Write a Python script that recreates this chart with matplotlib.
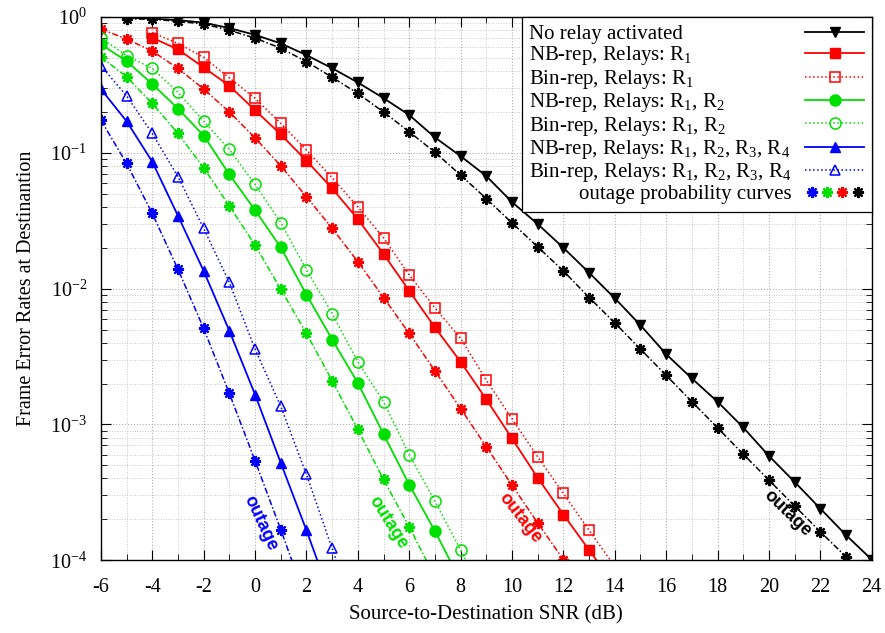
import numpy as np
import matplotlib
matplotlib.use("Agg")
import matplotlib.pyplot as plt
from matplotlib.lines import Line2D
from matplotlib.legend_handler import HandlerTuple
from matplotlib.ticker import LogLocator, MultipleLocator

plt.rcParams['font.family'] = ['Liberation Serif', 'DejaVu Serif']
plt.rcParams['mathtext.fontset'] = 'custom'
plt.rcParams['mathtext.rm'] = 'Liberation Serif'
plt.rcParams['mathtext.it'] = 'Liberation Serif:italic'
plt.rcParams['mathtext.default'] = 'regular'
plt.rcParams['axes.unicode_minus'] = False

# SNR grids (dB)
snr_black_nb = np.arange(-5, 25)
snr_black_out = np.arange(-5, 25)
snr_red = np.arange(-4, 15)
snr_red_out = np.arange(-6, 13)
snr_green_nb = np.arange(-6, 9)
snr_green_bin = np.arange(-6, 10)
snr_green_out = np.arange(-6, 8)
snr_blue_nb = np.arange(-6, 4)
snr_blue_bin = np.arange(-6, 5)
snr_blue_out = np.arange(-6, 3)

# no relay
black_nb = [0.99, 0.975, 0.95, 0.91, 0.83, 0.74, 0.64, 0.525, 0.42, 0.33,
            0.253, 0.19, 0.13, 0.0946, 0.0675, 0.0434, 0.0299, 0.02, 0.0131, 0.0085,
            0.00538, 0.00329, 0.00218, 0.00147, 0.00095, 0.000586, 0.000377, 0.00024,
            0.000153, 0.000101]
black_out = [0.97, 0.965, 0.93, 0.89, 0.80, 0.70, 0.59, 0.47, 0.36, 0.274,
             0.2, 0.143, 0.101, 0.0686, 0.046, 0.0305, 0.0203, 0.0135, 0.0086, 0.0056,
             0.00358, 0.0023, 0.00147, 0.000944, 0.000604, 0.000389, 0.000251, 0.000162,
             0.000106, 0.00007]
# R1
red_nb = [0.705, 0.578, 0.426, 0.312, 0.206, 0.137, 0.0875, 0.0548, 0.0325, 0.018,
          0.00964, 0.00518, 0.00289, 0.00153, 0.000788, 0.000404, 0.000217, 0.000119, 0.000065]
red_bin = [0.77, 0.64, 0.505, 0.357, 0.252, 0.165, 0.105, 0.0655, 0.04, 0.0237,
           0.0126, 0.00722, 0.0043, 0.00212, 0.0011, 0.000577, 0.00031, 0.000166, 0.00009]
red_out = [0.816, 0.689, 0.562, 0.419, 0.295, 0.2, 0.129, 0.0803, 0.0475, 0.0278,
           0.0158, 0.0086, 0.00468, 0.00248, 0.00131, 0.000684, 0.000357, 0.000188, 0.000101]
# R1, R2
green_nb = [0.63, 0.474, 0.321, 0.212, 0.134, 0.0693, 0.0379, 0.0201, 0.00905, 0.00422,
            0.00202, 0.000848, 0.00036, 0.000164, 0.00007]
green_bin = [0.705, 0.519, 0.419, 0.279, 0.171, 0.106, 0.0585, 0.0307, 0.0138, 0.00656,
             0.00289, 0.00147, 0.0006, 0.000272, 0.000119, 0.00005]
green_out = [0.51, 0.363, 0.231, 0.139, 0.0776, 0.0407, 0.0209, 0.0099, 0.00468, 0.0021,
             0.000918, 0.000393, 0.000176, 0.000075]
# R1..R4
blue_nb = [0.295, 0.171, 0.086, 0.0344, 0.0135, 0.00489, 0.00166, 0.000521, 0.000166, 0.00005]
blue_bin = [0.438, 0.263, 0.139, 0.0667, 0.0278, 0.0111, 0.00358, 0.00136, 0.000428,
            0.000122, 0.000035]
blue_out = [0.174, 0.0836, 0.0358, 0.0139, 0.00509, 0.00169, 0.00054, 0.000168, 0.00005]

RED = '#ff0000'
GREEN = '#00e000'
BLUE = '#0000ff'
BLACK = '#000000'

star = (8, 2, 0)
dashdot = (0, (4, 1.5, 1, 1.5))

fig = plt.figure(figsize=(8.85, 6.33), dpi=100)
ax = fig.add_axes([0.114, 0.115, 0.871, 0.858])

# outage curves
for x, y, c in [(snr_blue_out, blue_out, BLUE), (snr_green_out, green_out, GREEN),
                (snr_red_out, red_out, RED), (snr_black_out, black_out, BLACK)]:
    ax.plot(x, y, color=c, ls=dashdot, lw=1.1, marker=star, ms=8, mew=1.6)

ax.plot(snr_black_nb, black_nb, color=BLACK, lw=1.3, marker='v', ms=7,
        label='No relay activated')
ax.plot(snr_red, red_nb, color=RED, lw=1.3, marker='s', ms=7,
        label='NB-rep, Relays: R$_1$')
ax.plot(snr_red, red_bin, color=RED, lw=1.1, ls=':', marker='s', ms=7, mfc='none', mew=1.1,
        label='Bin-rep, Relays: R$_1$')
ax.plot(snr_green_nb, green_nb, color=GREEN, lw=1.3, marker='o', ms=8,
        label='NB-rep, Relays: R$_1$, R$_2$')
ax.plot(snr_green_bin, green_bin, color=GREEN, lw=1.1, ls=':', marker='o', ms=8, mfc='none', mew=1.1,
        label='Bin-rep, Relays: R$_1$, R$_2$')
ax.plot(snr_blue_nb, blue_nb, color=BLUE, lw=1.3, marker='^', ms=7,
        label='NB-rep, Relays: R$_1$, R$_2$, R$_3$, R$_4$')
ax.plot(snr_blue_bin, blue_bin, color=BLUE, lw=1.1, ls=':', marker='^', ms=7, mfc='none', mew=1.1,
        label='Bin-rep, Relays: R$_1$, R$_2$, R$_3$, R$_4$')

ax.set_yscale('log')
ax.set_xlim(-6, 24)
ax.set_ylim(1e-4, 1)

ax.xaxis.set_major_locator(MultipleLocator(2))
ax.xaxis.set_minor_locator(MultipleLocator(1))
ax.yaxis.set_major_locator(LogLocator(base=10, numticks=10))
ax.yaxis.set_minor_locator(LogLocator(base=10, subs=np.arange(2, 10), numticks=20))
ax.yaxis.set_major_formatter(matplotlib.ticker.FuncFormatter(
    lambda v, p: '10$^{%d}$' % int(round(np.log10(v)))))
ax.yaxis.set_minor_formatter(matplotlib.ticker.NullFormatter())

ax.tick_params(which='both', direction='in', top=True, right=True, labelsize=14.5)
ax.tick_params(which='major', length=7, width=0.8)
ax.tick_params(axis='x', which='major', pad=13)
ax.tick_params(axis='y', which='major', pad=10)
ax.tick_params(which='minor', length=4, width=0.6)
ax.grid(True, which='major', color='#b0b0b0', ls=':', lw=0.8)
ax.grid(True, which='minor', color='#c8c8c8', ls=':', lw=0.7)
for s in ax.spines.values():
    s.set_linewidth(1.0)

ax.set_xlabel('Source-to-Destination SNR (dB)', fontsize=15, labelpad=6)
ax.set_ylabel('Frame Error Rates at Destinantion', fontsize=14.5, labelpad=10)

# outage annotations
txt = dict(fontsize=13, fontweight='bold', family='Liberation Sans',
           ha='center', va='center', rotation_mode='anchor')
ax.text(0.19, 1.87e-4, 'outage', color=BLUE, rotation=-65, **txt)
ax.text(5.17, 1.9e-4, 'outage', color=GREEN, rotation=-58, **txt)
ax.text(10.3, 2.04e-4, 'outage', color=RED, rotation=-52, **txt)
ax.text(20.7, 2.22e-4, 'outage', color=BLACK, rotation=-44, **txt)

handles, labels = ax.get_legend_handles_labels()
out_handle = tuple(Line2D([], [], ls='none', marker=star, ms=8, mew=1.6, color=c)
                   for c in [BLUE, GREEN, RED, BLACK])
handles.append(out_handle)
labels.append('outage probability curves')
leg = ax.legend(handles, labels, loc='upper right', markerfirst=False, fontsize=15,
                handlelength=2.85, handletextpad=0.65, labelspacing=0.02,
                borderaxespad=0, borderpad=0.35, fancybox=False, framealpha=1,
                edgecolor='black', handler_map={tuple: HandlerTuple(ndivide=None, pad=0.1)})
leg.get_frame().set_linewidth(0.9)

# left-align the labels (gnuplot key style), keep the last row right-aligned
fig.canvas.draw()
renderer = fig.canvas.get_renderer()
col = leg._legend_handle_box.get_children()[0]
rows = col.get_children()
col.width = max(r.get_bbox(renderer).width for r in rows)
for r in rows[:-1]:
    r.mode = 'expand'

fig.savefig('out.png', dpi=100)
